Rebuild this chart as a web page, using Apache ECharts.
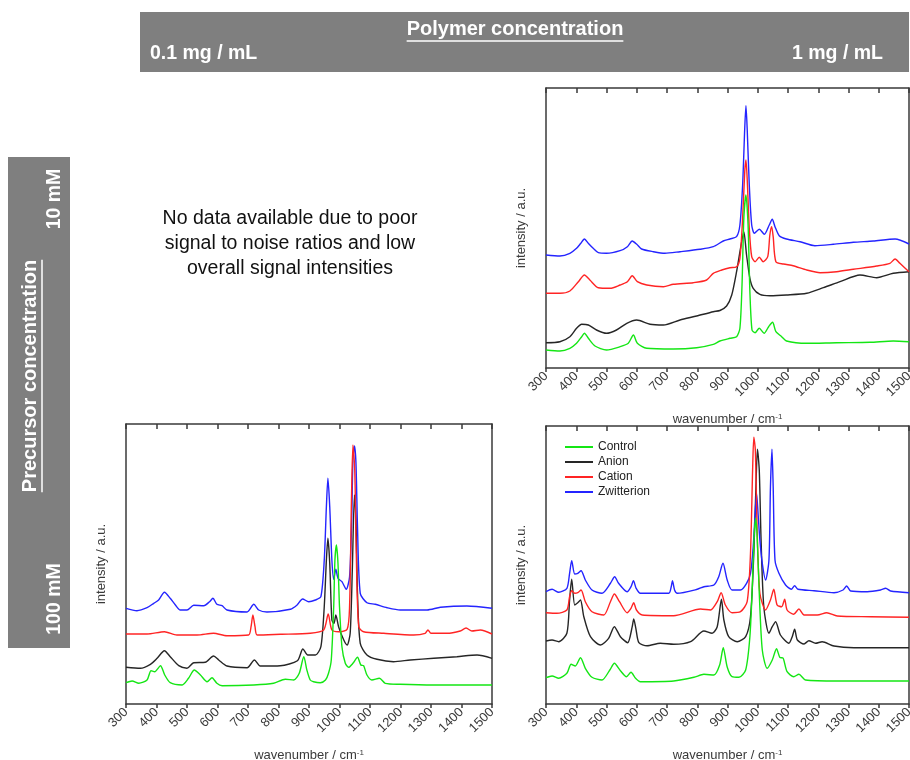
<!DOCTYPE html>
<html>
<head>
<meta charset="utf-8">
<title>Raman spectra</title>
<script src="https://cdn.jsdelivr.net/npm/echarts@6/dist/echarts.min.js"></script>
<style>
  html, body { margin: 0; padding: 0; background: #fff; overflow: hidden; }
  #chart { width: 910px; height: 760px; }
</style>
</head>
<body>
<div id="chart"></div>
<script>
// ---- axis ticks (wavenumber, cm-1) ----
const xTicks = [300, 400, 500, 600, 700, 800, 900, 1000, 1100, 1200, 1300, 1400, 1500];

// ---- series names / legend ----
const seriesNames = ['Control', 'Anion', 'Cation', 'Zwitterion'];

// ---- 10 mM precursor, 1 mg/mL polymer (intensity in arbitrary units, offset stacked) ----
const trControl = [[300,18],[346,17],[379,19.7],[401,24.7],[418,31.3],[427,34.7],[440,29.7],[462,22],[500,18],[545,21.3],[572,24.7],[589,33],[602,24.7],[633,19.7],[721,19],[798,20.3],[853,23.7],[875,27],[908,29.7],[930,31.3],[941,39.7],[948,83],[954,149.7],[961,173],[968,143],[974,76.3],[981,38],[991,35.3],[1005,39.7],[1021,34.7],[1036,41.3],[1049,45.7],[1060,36.3],[1079,31.3],[1095,27],[1162,24.7],[1261,25.3],[1371,25.7],[1448,27],[1500,26.3]];
const trAnion = [[300,25.3],[346,26.3],[379,31.3],[401,39.7],[418,43.7],[440,43],[467,38],[500,34.7],[533,38],[567,44.7],[600,48],[644,43.7],[688,43],[743,48],[798,52],[853,56.3],[875,57.5],[897,62],[914,73],[930,96.3],[943,119.7],[954,136.3],[963,113],[974,89.7],[985,79.7],[1007,73.7],[1040,72.3],[1095,73],[1162,74.7],[1217,80.3],[1272,86.3],[1338,93],[1393,90.3],[1448,94.7],[1500,96.3]];
const trCation = [[300,74.7],[346,74.7],[379,77],[407,86.3],[427,93],[445,88],[473,80.3],[512,79.7],[545,83],[569,86.3],[585,92.3],[602,86.3],[633,83],[688,81.3],[721,83.7],[787,85.3],[831,88],[853,94.7],[881,98],[908,100.3],[930,101.3],[941,109.7],[950,149.7],[957,196.3],[961,208],[965,189.7],[972,139.7],[980,111.3],[991,106.3],[1005,110.7],[1018,106.3],[1033,111.3],[1040,133],[1046,141.3],[1051,131.3],[1060,106.3],[1085,104],[1117,102.3],[1162,98],[1206,95.3],[1261,96.3],[1316,98.7],[1393,102],[1437,104.7],[1454,109],[1470,104.7],[1500,96.3]];
const trZwitterion = [[300,113],[346,112],[379,114.7],[401,119.7],[415,124.7],[427,129],[440,124.7],[456,119.7],[473,115.3],[500,114.7],[545,117.3],[569,121.3],[585,127],[600,123.7],[616,119],[655,116.3],[693,114.7],[743,116.3],[809,118.7],[853,121.3],[886,127],[908,129],[930,131.3],[941,143],[950,183],[957,239.7],[961,262.3],[965,239.7],[972,183],[980,143],[989,134.7],[1005,138.7],[1022,133.7],[1038,143],[1048,148.7],[1057,141.3],[1071,132.3],[1095,129],[1140,126.3],[1189,122.3],[1250,123.7],[1316,125.7],[1382,127],[1454,129],[1500,124]];

// ---- 100 mM precursor, 0.1 mg/mL polymer ----
const blControl = [[300,21.3],[320,23],[342,20.7],[369,24],[382,33.3],[394,32.3],[413,38.3],[427,29],[445,21.3],[484,19],[505,25.7],[524,34],[544,29],[566,22.3],[582,26.3],[598,20.7],[615,18.3],[719,19],[784,20.7],[822,24.7],[850,24],[868,30.7],[883,47.3],[893,34],[904,24],[915,22.3],[937,21.3],[954,24],[964,30.7],[973,44],[981,97.3],[985,144],[990,159],[995,140.7],[1000,97.3],[1008,57.3],[1019,40.7],[1030,36.7],[1044,40.7],[1059,46.7],[1070,39],[1079,38.3],[1090,29],[1106,24],[1131,25.7],[1150,20.7],[1199,19.7],[1309,19],[1500,19]];
const blAnion = [[300,36.7],[347,35.7],[380,39.7],[402,45.7],[426,53.3],[445,47.3],[473,38.3],[500,35.7],[522,41.3],[560,41.7],[587,48],[604,44],[631,38],[697,36.3],[721,44],[740,38],[806,38.3],[862,43.3],[880,55],[896,49],[921,49],[939,57.3],[950,97.3],[957,144],[962,165.7],[968,140.7],[975,84],[982,80.7],[988,89],[997,77.3],[1014,64],[1025,59],[1035,70.7],[1042,134],[1049,209],[1054,184],[1059,110.7],[1068,60.7],[1090,49],[1123,44.7],[1177,42.3],[1232,44],[1309,45.7],[1385,47.3],[1451,49],[1500,45.7]];
const blCation = [[300,70],[369,70],[426,72.3],[467,69],[533,69],[587,70.7],[631,68.3],[702,69],[710,77.3],[716,89],[723,77.3],[730,69],[806,69.7],[904,70.7],[948,74],[963,90],[975,74],[997,72.3],[1025,74.7],[1033,97.3],[1039,200.7],[1044,259],[1050,234],[1055,150.7],[1063,77.3],[1079,72.3],[1145,70.7],[1243,69],[1281,70.7],[1290,74],[1300,70.7],[1352,70.7],[1396,73],[1415,76],[1434,73],[1462,74],[1500,70]];
const blZwitterion = [[300,95.7],[336,93.3],[369,96.3],[391,100.7],[407,104],[426,111.7],[445,105.7],[462,99],[478,94],[500,94],[522,98.7],[555,98.3],[574,102.3],[585,105.7],[598,99.7],[615,98.3],[631,94],[697,92],[719,99.7],[735,94],[762,92],[839,94.7],[861,99],[879,105],[899,102.3],[921,104],[939,107.3],[950,144],[957,197.3],[962,225.7],[968,197.3],[975,144],[981,124.7],[988,134.7],[995,125.7],[1008,122.3],[1022,114.7],[1033,127.3],[1040,184],[1044,244],[1049,258],[1054,240.7],[1059,177.3],[1068,110.7],[1090,101.3],[1117,99.7],[1156,96.3],[1199,94],[1287,94],[1331,96.7],[1418,98],[1500,95.7]];

// ---- 100 mM precursor, 1 mg/mL polymer ----
const brControl = [[300,26.3],[320,28],[342,25.7],[369,30.7],[383,39.7],[397,38],[414,46.3],[430,35.7],[452,26.7],[485,24],[511,34],[526,40.7],[546,33.3],[566,27.3],[581,31.7],[596,25.7],[612,22.3],[722,23],[789,26.7],[822,29.7],[855,29],[874,39],[886,56.3],[899,37],[915,27.3],[938,26.7],[960,34],[974,67.3],[982,117.3],[988,167.3],[993,185.7],[998,167.3],[1005,110.7],[1015,54],[1031,35.7],[1048,44],[1062,55.3],[1073,46.7],[1084,45.7],[1097,32.3],[1119,27.3],[1136,29.7],[1158,24],[1263,23],[1500,23]];
const brAnion = [[300,63],[320,64],[342,62.3],[369,70.7],[378,104],[385,124.7],[395,99],[405,101.3],[414,104],[425,87.3],[447,67.3],[480,59],[507,65.7],[526,77.3],[546,67.3],[570,61.3],[585,77.3],[590,85],[597,75.7],[607,61.3],[634,58.3],[678,60.7],[722,59.7],[778,62.3],[822,73],[849,70.7],[866,77.3],[880,104.7],[888,84],[904,67.3],[932,62.3],[960,67.3],[976,87.3],[987,150.7],[994,217.3],[999,254.7],[1005,234],[1011,164],[1020,97.3],[1037,70.7],[1048,77.3],[1059,82.3],[1075,69],[1103,60.7],[1114,67.3],[1122,74.7],[1131,64],[1153,60],[1169,63.3],[1191,60.7],[1213,62.3],[1252,58],[1318,56.3],[1500,56.3]];
const brCation = [[300,91.3],[336,90.7],[369,94],[378,107.3],[385,113.3],[395,110.7],[405,111.3],[416,114],[430,102.3],[452,92.3],[491,89],[513,102.3],[526,110],[543,102.3],[568,91.3],[581,95.7],[590,101.3],[599,94],[618,89],[722,88.3],[811,95],[844,94],[866,102.3],[879,111.3],[893,99],[915,91.3],[943,92.3],[965,102.3],[976,150.7],[983,234],[987,266.7],[992,254],[998,174],[1007,110.7],[1026,94],[1042,104],[1053,114.7],[1064,99],[1079,97.3],[1089,104.7],[1097,94],[1119,89.7],[1136,95],[1153,89],[1197,89],[1228,91.3],[1263,88],[1373,87.3],[1500,86.7]];
const brZwitterion = [[300,112.3],[320,114.7],[342,111.7],[369,115.7],[378,130.7],[385,143.3],[395,130],[405,130.7],[416,133.3],[430,124],[452,114],[485,110.7],[513,120.7],[527,127.3],[540,120.7],[568,112.3],[581,117.3],[589,123.3],[598,115.7],[612,110.7],[706,110.7],[714,117.3],[718,123.3],[725,114],[734,110.7],[800,114.7],[822,117.3],[855,119],[871,127.3],[885,140.7],[899,124],[915,114],[943,114],[963,120.7],[976,130.7],[985,157.3],[992,194],[996,210.7],[1001,190.7],[1007,164],[1015,140.7],[1026,124],[1037,144],[1042,217.3],[1047,254.7],[1051,217.3],[1057,144],[1070,130.7],[1092,119],[1111,114.7],[1122,118.3],[1133,114.7],[1186,113.3],[1252,111.3],[1282,114],[1294,118],[1307,113],[1362,112.3],[1406,114],[1423,115.7],[1439,113],[1500,111.3]];

// ---- styling ----
const FONT = '"Liberation Sans", Arial, sans-serif';
const COLORS = { Control: '#14e614', Anion: '#262626', Cation: '#ff2424', Zwitterion: '#2424ff' };
const FRAME = { color: '#3a3a3a', width: 1.5 };
const BANNER = '#7f7f7f';

// panel layout: grid boxes in pixels, y range of each intensity axis
const panels = [
  { left: 546, top: 88,  width: 363, height: 280, ymax: 280,
    data: { Control: trControl, Anion: trAnion, Cation: trCation, Zwitterion: trZwitterion } },
  { left: 126, top: 424, width: 366, height: 280, ymax: 280,
    data: { Control: blControl, Anion: blAnion, Cation: blCation, Zwitterion: blZwitterion } },
  { left: 546, top: 426, width: 363, height: 278, ymax: 278,
    data: { Control: brControl, Anion: brAnion, Cation: brCation, Zwitterion: brZwitterion } }
];

// drawing order (later = on top)
const drawOrder = ['Anion', 'Zwitterion', 'Cation', 'Control'];

const grid = [], xAxis = [], yAxis = [], series = [];
panels.forEach((p, i) => {
  grid.push({ left: p.left, top: p.top, width: p.width, height: p.height,
    containLabel: false, outerBoundsMode: 'none' });
  // bottom axis with labels
  xAxis.push({
    type: 'value', gridIndex: i,
    min: xTicks[0], max: xTicks[xTicks.length - 1], interval: xTicks[1] - xTicks[0],
    axisLine: { show: true, onZero: false, lineStyle: FRAME },
    axisTick: { show: true, inside: false, length: 4, lineStyle: FRAME },
    axisLabel: { rotate: 45, margin: 6, fontSize: 13, color: '#3a3a3a', fontFamily: FONT,
      formatter: v => String(v) },
    splitLine: { show: false },
    name: 'wavenumber / cm{sup|-1}', nameLocation: 'middle', nameGap: 45,
    nameTextStyle: { fontSize: 13, color: '#3a3a3a', fontFamily: FONT,
      rich: { sup: { fontSize: 8, verticalAlign: 'top', color: '#3a3a3a', fontFamily: FONT } } }
  });
  // top frame with inward ticks
  xAxis.push({
    type: 'value', gridIndex: i, position: 'top',
    min: xTicks[0], max: xTicks[xTicks.length - 1], interval: xTicks[1] - xTicks[0],
    axisLine: { show: true, onZero: false, lineStyle: FRAME },
    axisTick: { show: true, inside: true, length: 5, lineStyle: FRAME },
    axisLabel: { show: false }, splitLine: { show: false }
  });
  yAxis.push({
    type: 'value', gridIndex: i, min: 0, max: p.ymax,
    axisLine: { show: true, onZero: false, lineStyle: FRAME },
    axisTick: { show: false }, axisLabel: { show: false }, splitLine: { show: false },
    name: 'intensity / a.u.', nameLocation: 'middle', nameGap: 18,
    nameTextStyle: { fontSize: 13, color: '#3a3a3a', fontFamily: FONT }
  });
  yAxis.push({
    type: 'value', gridIndex: i, position: 'right', min: 0, max: p.ymax,
    axisLine: { show: true, onZero: false, lineStyle: FRAME },
    axisTick: { show: false }, axisLabel: { show: false }, splitLine: { show: false }
  });
  drawOrder.forEach((name, k) => {
    series.push({
      type: 'line', name: name,
      xAxisIndex: i * 2, yAxisIndex: i * 2,
      data: p.data[name],
      showSymbol: false, symbol: 'none',
      smooth: 0.25,
      color: COLORS[name],
      lineStyle: { color: COLORS[name], width: 1.4 },
      z: 2 + k, silent: true
    });
  });
});

// text width helper for the underlined headings
const measureCtx = document.createElement('canvas').getContext('2d');
function textWidth(txt, font) { measureCtx.font = font; return measureCtx.measureText(txt).width; }

const headFont = 'bold 20px ' + FONT;
const subFont = 'bold 19.5px ' + FONT;
const noteFont = '19.5px ' + FONT;
const polyTitle = 'Polymer concentration';
const precTitle = 'Precursor concentration';
const polyW = textWidth(polyTitle, headFont);
const precW = textWidth(precTitle, headFont);
const polyX = 515, polyY = 29;
const precX = 30, precY = 376;

function label(txt, x, y, font, align, rot, fill) {
  return {
    type: 'text', x: x, y: y, rotation: rot || 0, silent: true,
    style: { text: txt, font: font, fill: fill || '#fff',
      align: align, verticalAlign: 'middle', textAlign: align, textVerticalAlign: 'middle' }
  };
}

const graphic = [
  // column banner
  { type: 'rect', shape: { x: 140, y: 12, width: 769, height: 60 }, style: { fill: BANNER }, silent: true },
  label(polyTitle, polyX, polyY, headFont, 'center'),
  { type: 'line', shape: { x1: polyX - polyW / 2, y1: polyY + 12, x2: polyX + polyW / 2, y2: polyY + 12 },
    style: { stroke: '#fff', lineWidth: 1.5 }, silent: true },
  label('0.1 mg / mL', 150, 54, subFont, 'left'),
  label('1 mg / mL', 883, 54, subFont, 'right'),
  // row banner
  { type: 'rect', shape: { x: 8, y: 157, width: 62, height: 491 }, style: { fill: BANNER }, silent: true },
  label('10 mM', 55, 199, subFont, 'center', Math.PI / 2),
  label(precTitle, precX, precY, headFont, 'center', Math.PI / 2),
  { type: 'line', shape: { x1: precX + 12, y1: precY - precW / 2, x2: precX + 12, y2: precY + precW / 2 },
    style: { stroke: '#fff', lineWidth: 1.5 }, silent: true },
  label('100 mM', 55, 599, subFont, 'center', Math.PI / 2),
  // empty panel note
  label('No data available due to poor', 290, 219, noteFont, 'center', 0, '#111'),
  label('signal to noise ratios and low', 290, 244, noteFont, 'center', 0, '#111'),
  label('overall signal intensities', 290, 269, noteFont, 'center', 0, '#111')
];

const chart = echarts.init(document.getElementById('chart'), null, { renderer: 'canvas' });
chart.setOption({
  animation: false,
  backgroundColor: '#fff',
  textStyle: { fontFamily: FONT },
  grid: grid, xAxis: xAxis, yAxis: yAxis, series: series,
  legend: {
    data: seriesNames, orient: 'vertical', left: 565, top: 440,
    icon: 'rect', itemWidth: 28, itemHeight: 2, itemGap: 1, padding: 0,
    selectedMode: false,
    textStyle: { fontSize: 12, color: '#222', fontFamily: FONT, lineHeight: 14 }
  },
  graphic: graphic
});
</script>
</body>
</html>
